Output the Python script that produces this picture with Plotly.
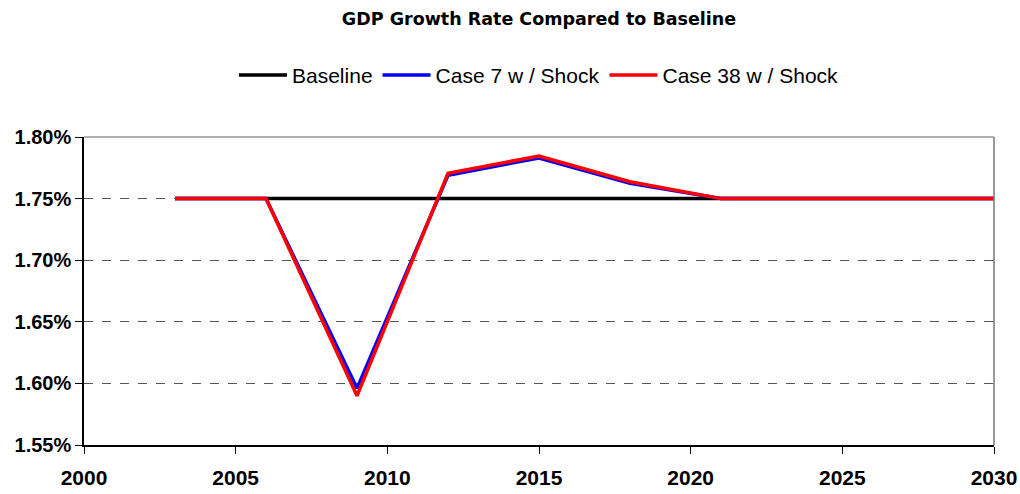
import plotly.graph_objects as go

years = [2003, 2006, 2009, 2012, 2015, 2018, 2021, 2024, 2027, 2030]
baseline = [1.75, 1.75, 1.75, 1.75, 1.75, 1.75, 1.75, 1.75, 1.75, 1.75]
case7 = [1.75, 1.75, 1.596, 1.769, 1.783, 1.7625, 1.75, 1.75, 1.75, 1.75]
case38 = [1.75, 1.75, 1.590, 1.7705, 1.7846, 1.7637, 1.75, 1.75, 1.75, 1.75]

y_ticks = [1.55, 1.60, 1.65, 1.70, 1.75, 1.80]
x_ticks = [2000, 2005, 2010, 2015, 2020, 2025, 2030]

to_frac = lambda v: [x / 100 for x in v]
FONT = "Liberation Sans, Arial, sans-serif"

fig = go.Figure()
fig.add_trace(go.Scatter(x=years, y=to_frac(baseline), mode="lines", name="Baseline",
                         line=dict(color="black", width=3.5)))
fig.add_trace(go.Scatter(x=years, y=to_frac(case7), mode="lines", name="Case 7 w / Shock",
                         line=dict(color="#0000ff", width=3.5)))
fig.add_trace(go.Scatter(x=years, y=to_frac(case38), mode="lines", name="Case 38 w / Shock",
                         line=dict(color="#ff0000", width=3.5)))

fig.update_layout(
    width=1020, height=494,
    margin=dict(l=84, r=26, t=137, b=49, autoexpand=False),
    paper_bgcolor="white", plot_bgcolor="white",
    font=dict(family=FONT, color="black"),
    title=dict(text="<b>GDP Growth Rate Compared to Baseline</b>", x=0.5, xanchor="center",
               xref="paper",
               y=0.962, yanchor="middle", font=dict(size=17.5, family="DejaVu Sans, sans-serif")),
    legend=dict(orientation="h", x=0.5, xanchor="center", xref="paper",
                y=1.2, yanchor="middle", font=dict(size=21), itemwidth=48,
                tracegroupgap=0, traceorder="normal"),
    showlegend=True,
)
fig.update_xaxes(range=[2000, 2030], tickvals=x_ticks, ticktext=["<b>%d</b>" % t for t in x_ticks],
                 showgrid=False, zeroline=False, showline=True, linecolor="black", linewidth=1.5,
                 ticks="outside", ticklen=7, tickcolor="black", automargin=False,
                 ticklabelstandoff=6,
                 tickfont=dict(size=21, family=FONT))
fig.update_yaxes(range=[0.0155, 0.0180], tickvals=to_frac(y_ticks),
                 ticktext=["<b>%.2f%%</b>" % t for t in y_ticks],
                 showgrid=True, gridcolor="#555555", griddash="dash", gridwidth=1,
                 zeroline=False, showline=True, linecolor="black", linewidth=1.5,
                 ticks="outside", ticklen=7, tickcolor="black", automargin=False,
                 tickfont=dict(size=20, family=FONT))
fig.add_shape(type="line", xref="paper", yref="paper", x0=0, x1=1, y0=1, y1=1,
              line=dict(color="#999999", width=1.5))
fig.add_shape(type="line", xref="paper", yref="paper", x0=1, x1=1, y0=0, y1=1,
              line=dict(color="#777777", width=1.5))

fig.write_html("out.html", config={"displayModeBar": False},
               post_script="document.body.style.margin='0px';document.body.style.overflow='hidden';")
